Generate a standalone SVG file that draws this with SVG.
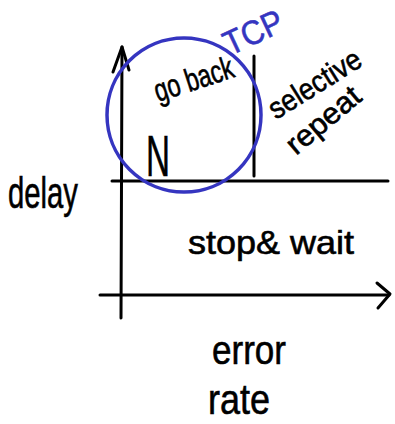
<svg xmlns="http://www.w3.org/2000/svg" width="395" height="424" viewBox="0 0 395 424">
<style>
.ln{fill:none;stroke:#000;stroke-width:3;stroke-linecap:round;stroke-linejoin:round}
.t{font-family:"Liberation Sans",sans-serif;fill:#000;stroke:#000;stroke-width:0.6}
.b{fill:#3535c0;stroke:#3535c0}
</style>
<rect width="395" height="424" fill="#fff"/>
<g id="axes">
<path class="ln" d="M121 318 L122 47"/>
<path class="ln" d="M113 72 L122 47 L129 70"/>
<path class="ln" d="M100 295 L389 295"/>
<path class="ln" d="M377 283 L390 294 L378 308"/>
<path class="ln" d="M112 181 L388 181"/>
<path class="ln" d="M254 56 L254 176"/>
</g>
<circle id="tcp-circle" cx="184" cy="115" r="77" fill="none" stroke="#3535c0" stroke-width="3.5"/>
<text class="t b" x="230" y="56" font-size="34" textLength="62" lengthAdjust="spacingAndGlyphs" transform="rotate(-25 230 56)">TCP</text>
<text class="t" x="158" y="102" font-size="32" textLength="82" lengthAdjust="spacingAndGlyphs" transform="rotate(-18 158 102)">go back</text>
<text class="t" x="146" y="176" font-size="58" textLength="24" lengthAdjust="spacingAndGlyphs">N</text>
<text class="t" x="276" y="120" font-size="30" textLength="104" lengthAdjust="spacingAndGlyphs" transform="rotate(-32 276 120)">selective</text>
<text class="t" x="296" y="156" font-size="30" textLength="88" lengthAdjust="spacingAndGlyphs" transform="rotate(-40 296 156)">repeat</text>
<text class="t" x="8" y="208" font-size="44" textLength="70" lengthAdjust="spacingAndGlyphs">delay</text>
<text class="t" x="188" y="254" font-size="34" textLength="166" lengthAdjust="spacingAndGlyphs">stop&amp; wait</text>
<text class="t" x="212" y="364" font-size="40" textLength="74" lengthAdjust="spacingAndGlyphs">error</text>
<text class="t" x="208" y="414" font-size="42" textLength="62" lengthAdjust="spacingAndGlyphs">rate</text>
</svg>
